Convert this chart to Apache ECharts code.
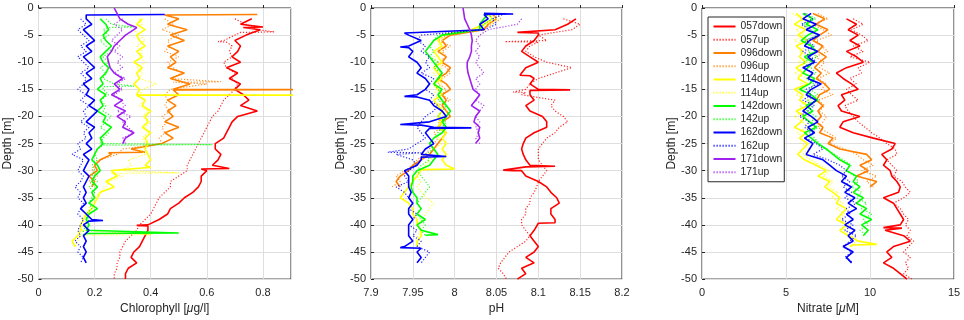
<!DOCTYPE html>
<html>
<head>
<meta charset="utf-8">
<script src="https://cdn.jsdelivr.net/npm/echarts@6/dist/echarts.min.js"></script>
<style>
  html, body { margin: 0; background: #fff; }
  #chart { width: 964px; height: 320px; }
</style>
</head>
<body>
<div id="chart"></div>
<script>
// profile values on a 1 m depth grid, first value at the given top depth
// spikes: extra [depth, value] samples (sharp excursions)

const castNames = ['057down', '057up', '096down', '096up', '114down', '114up',
  '142down', '142up', '162down', '162up', '171down', '171up']
const castColors = ['#ff0000', '#ff0000', '#ff8000', '#ff8000', '#ffff00', '#ffff00',
  '#00ff00', '#00ff00', '#0000ff', '#0000ff', '#a020f0', '#a020f0']
const depthTicks = [0, -5, -10, -15, -20, -25, -30, -35, -40, -45, -50]

// ---- Chlorophyll [ug/l]
const chl057down = [0.76, 0.72, 0.79, 0.74, 0.70, 0.72, 0.71, 0.69, 0.72, 0.67, 0.71, 0.68, 0.72, 0.70,
  0.73, 0.75, 0.72, 0.78, 0.71, 0.69, 0.68, 0.67, 0.66, 0.63, 0.63, 0.65, 0.64, 0.62, 0.60, 0.58, 0.58,
  0.57, 0.55, 0.52, 0.50, 0.47, 0.46, 0.43, 0.39, 0.39, 0.38, 0.37, 0.36, 0.34, 0.33, 0.35, 0.32, 0.31, 0.31]
const chl057downSpikes = [[-3.5, 0.80], [-3.6, 0.73], [-29.6, 0.68], [-29.7, 0.58], [-40.1, 0.35], [-40.2, 0.39]]
const chl057up = [0.70, 0.74, 0.78, 0.70, 0.66, 0.69, 0.68, 0.69, 0.66, 0.67, 0.70, 0.69, 0.71, 0.70,
  0.68, 0.66, 0.65, 0.64, 0.62, 0.61, 0.60, 0.59, 0.58, 0.57, 0.56, 0.55, 0.54, 0.53, 0.53, 0.50, 0.47,
  0.47, 0.45, 0.43, 0.42, 0.41, 0.40, 0.38, 0.36, 0.35, 0.33, 0.31, 0.30, 0.29, 0.29, 0.28, 0.28, 0.27, 0.27]
const chl057upSpikes = [[-4.4, 0.84], [-4.5, 0.72], [-6.2, 0.64], [-6.3, 0.67]]
const chl096down = [0.50, 0.46, 0.53, 0.47, 0.52, 0.46, 0.50, 0.47, 0.49, 0.46, 0.52, 0.47, 0.54, 0.48,
  0.50, 0.46, 0.49, 0.46, 0.48, 0.45, 0.50, 0.45, 0.48, 0.44, 0.33, 0.26, 0.22, 0.20, 0.21, 0.18, 0.20, 0.19]
const chl096downSpikes = [[-1.2, 0.78], [-1.3, 0.45], [-15.05, 1.2], [-15.1, 0.48], [-26.6, 0.38], [-26.7, 0.25]]
const chl096up = [0.45, 0.48, 0.44, 0.50, 0.46, 0.47, 0.45, 0.50, 0.46, 0.48, 0.51, 0.47, 0.60, 0.47,
  0.45, 0.46, 0.45, 0.47, 0.44, 0.46, 0.44, 0.45, 0.43, 0.44, 0.30, 0.28, 0.22, 0.20, 0.19, 0.21, 0.18, 0.20]
const chl096upSpikes = [[-13.6, 0.65], [-13.7, 0.48]]
const chl114down = [0.37, 0.35, 0.38, 0.35, 0.36, 0.38, 0.35, 0.37, 0.34, 0.37, 0.35, 0.36, 0.34, 0.36,
  0.35, 0.38, 0.37, 0.40, 0.38, 0.39, 0.37, 0.40, 0.38, 0.39, 0.38, 0.39, 0.40, 0.38, 0.26, 0.28, 0.24,
  0.27, 0.22, 0.21, 0.20, 0.19, 0.17, 0.16, 0.15, 0.15, 0.14, 0.12, 0.13]
const chl114downSpikes = [[-16.05, 1.2], [-16.1, 0.35], [-29.4, 0.40], [-29.5, 0.37]]
const chl114up = [0.36, 0.37, 0.34, 0.36, 0.38, 0.35, 0.37, 0.36, 0.38, 0.35, 0.37, 0.36, 0.42, 0.37,
  0.36, 0.38, 0.36, 0.39, 0.37, 0.40, 0.38, 0.39, 0.37, 0.38, 0.36, 0.38, 0.32, 0.33, 0.30, 0.30, 0.25,
  0.24, 0.22, 0.20, 0.19, 0.18, 0.18, 0.17, 0.16, 0.15, 0.15, 0.14, 0.13]
const chl114upSpikes = [[-30.4, 0.50], [-30.5, 0.26], [-41.8, 0.40], [-41.9, 0.15]]
const chl142down = [0.22, 0.24, 0.25, 0.23, 0.24, 0.26, 0.24, 0.22, 0.23, 0.25, 0.24, 0.22, 0.23, 0.21,
  0.24, 0.22, 0.23, 0.21, 0.24, 0.23, 0.26, 0.24, 0.22, 0.23, 0.21, 0.20, 0.19, 0.21, 0.22, 0.20, 0.19,
  0.21, 0.19, 0.20, 0.18, 0.21, 0.18, 0.17, 0.18, 0.17, 0.16]
const chl142downSpikes = [[-41.5, 0.50], [-41.6, 0.17]]
const chl142up = [0.24, 0.26, 0.23, 0.25, 0.22, 0.24, 0.26, 0.23, 0.25, 0.22, 0.24, 0.23, 0.27, 0.23,
  0.25, 0.22, 0.24, 0.23, 0.26, 0.24, 0.22, 0.25, 0.23, 0.22, 0.21, 0.20, 0.21, 0.19, 0.20, 0.19, 0.21,
  0.18, 0.20, 0.19, 0.18, 0.19, 0.17, 0.18, 0.17, 0.16, 0.16]
const chl142upSpikes = [[-3.5, 0.34], [-3.6, 0.25], [-14.4, 0.34], [-14.5, 0.23], [-25.2, 0.62], [-25.3, 0.23]]
const chl162down = [0.17, 0.19, 0.16, 0.18, 0.20, 0.17, 0.19, 0.16, 0.18, 0.20, 0.17, 0.19, 0.16, 0.18,
  0.17, 0.20, 0.18, 0.21, 0.19, 0.17, 0.20, 0.18, 0.19, 0.17, 0.19, 0.16, 0.18, 0.17, 0.16, 0.18, 0.17,
  0.16, 0.17, 0.16, 0.17, 0.15, 0.17, 0.19, 0.16, 0.18, 0.16, 0.17, 0.16, 0.17, 0.16, 0.17]
const chl162downSpikes = [[-1.2, 0.45], [-1.3, 0.17], [-39.2, 0.23], [-39.3, 0.18]]
const chl162up = [0.15, 0.17, 0.14, 0.16, 0.18, 0.15, 0.17, 0.14, 0.16, 0.18, 0.15, 0.17, 0.16, 0.14,
  0.17, 0.15, 0.18, 0.16, 0.17, 0.15, 0.18, 0.16, 0.17, 0.14, 0.15, 0.12, 0.16, 0.15, 0.14, 0.16, 0.15,
  0.13, 0.15, 0.14, 0.16, 0.15, 0.14, 0.16, 0.15, 0.14, 0.15, 0.13, 0.15, 0.14, 0.16, 0.15]
const chl171down = [0.27, 0.28, 0.29, 0.32, 0.34, 0.31, 0.29, 0.27, 0.26, 0.245, 0.25, 0.255, 0.27,
  0.30, 0.27, 0.29, 0.26, 0.30, 0.27, 0.31, 0.28, 0.31, 0.30, 0.34, 0.31, 0.30]
const chl171downSpikes = [[-3.6, 0.35]]
const chl171up = [0.30, 0.27, 0.30, 0.28, 0.26, 0.29, 0.27, 0.30, 0.28, 0.30, 0.27, 0.31, 0.28, 0.30,
  0.27, 0.29, 0.31, 0.28, 0.33, 0.30, 0.32, 0.34, 0.30, 0.31]

// ---- pH
const ph057down = [8.145, 8.135, 8.12, 8.10, 8.095, 8.085, 8.08, 8.09, 8.10, 8.085, 8.08, 8.095, 8.09,
  8.10, 8.09, 8.095, 8.085, 8.09, 8.105, 8.11, 8.11, 8.095, 8.085, 8.082, 8.08, 8.082, 8.085, 8.09,
  8.07, 8.085, 8.10, 8.11, 8.115, 8.122, 8.125, 8.115, 8.115, 8.12, 8.10, 8.095, 8.09, 8.095, 8.10,
  8.095, 8.085, 8.095, 8.08, 8.085, 8.075]
const ph057downSpikes = [[-4.5, 8.075], [-4.6, 8.10], [-12.4, 8.078], [-12.5, 8.09], [-15.1, 8.138],
  [-15.2, 8.09], [-29.2, 8.12], [-29.3, 8.085], [-29.9, 8.058], [-30.0, 8.08], [-39.6, 8.12], [-39.7, 8.10]]
const ph057up = [8.13, 8.15, 8.14, 8.10, 8.11, 8.09, 8.085, 8.095, 8.11, 8.14, 8.12, 8.10, 8.09, 8.085,
  8.08, 8.12, 8.115, 8.12, 8.13, 8.135, 8.125, 8.12, 8.11, 8.105, 8.10, 8.10, 8.10, 8.105, 8.11,
  8.105, 8.10, 8.098, 8.095, 8.09, 8.09, 8.085, 8.085, 8.08, 8.08, 8.085, 8.09, 8.085, 8.075, 8.065,
  8.06, 8.055, 8.052, 8.058, 8.062]
const ph057upSpikes = [[-6.2, 8.06], [-6.3, 8.10], [-15.5, 8.07], [-15.6, 8.085]]
const ph096down = [8.045, 8.05, 8.04, 8.035, 7.995, 7.985, 7.99, 7.98, 7.99, 7.985, 7.995, 7.99, 7.98,
  7.99, 7.995, 7.985, 7.99, 7.985, 7.99, 7.995, 7.985, 7.98, 7.99, 7.985, 7.98, 7.975, 7.97, 7.96,
  7.95, 7.945, 7.935, 7.93, 7.935]
const ph096up = [8.05, 8.055, 8.045, 8.03, 7.99, 7.98, 7.995, 7.985, 7.99, 7.98, 7.99, 7.995, 7.985,
  7.98, 7.99, 7.985, 7.995, 7.98, 7.985, 7.99, 7.98, 7.985, 7.975, 7.98, 7.975, 7.97, 7.965, 7.955,
  7.95, 7.94, 7.93, 7.935, 7.925]
const ph114down = [8.04, 8.045, 8.035, 8.02, 7.985, 7.98, 7.985, 7.975, 7.98, 7.985, 7.975, 7.98, 7.985,
  7.975, 7.98, 7.985, 7.975, 7.98, 7.985, 7.98, 7.985, 7.98, 7.99, 7.985, 7.99, 7.985, 7.99, 7.985,
  7.99, 7.96, 7.955, 7.95, 7.945, 7.94, 7.935, 7.945, 7.95, 7.95, 7.955, 7.955, 7.96, 7.96, 7.955, 7.955]
const ph114downSpikes = [[-29.7, 8.0], [-29.8, 7.96]]
const ph114up = [8.045, 8.05, 8.04, 8.025, 7.99, 7.985, 7.98, 7.985, 7.975, 7.98, 7.985, 7.975, 7.98,
  7.985, 7.98, 7.975, 7.985, 7.98, 7.99, 7.985, 7.98, 7.99, 7.985, 7.98, 7.985, 7.975, 7.98, 7.97,
  7.965, 7.96, 7.955, 7.96, 7.955, 7.96, 7.965, 7.975, 7.97, 7.965, 7.96, 7.955, 7.96, 7.955, 7.96, 7.955]
const ph142down = [8.04, 8.035, 8.03, 8.03, 7.985, 7.975, 7.97, 7.965, 7.97, 7.975, 7.98, 7.985, 7.98,
  7.975, 7.985, 7.98, 7.985, 7.99, 7.995, 7.99, 7.985, 7.99, 7.985, 7.975, 7.97, 7.975, 7.98, 7.975,
  7.97, 7.955, 7.95, 7.95, 7.948, 7.95, 7.955, 7.955, 7.96, 7.955, 7.965, 7.955, 7.96, 7.965]
const ph142downSpikes = [[-41.8, 7.98], [-41.9, 7.965]]
const ph142up = [8.04, 8.045, 8.035, 8.03, 7.98, 7.975, 7.97, 7.975, 7.97, 7.98, 7.975, 7.985, 7.98,
  7.975, 7.98, 7.985, 7.98, 7.99, 7.985, 7.98, 7.99, 7.985, 7.98, 7.975, 7.97, 7.975, 7.965, 7.97,
  7.96, 7.955, 7.96, 7.965, 7.97, 7.965, 7.96, 7.955, 7.96, 7.955, 7.96, 7.965, 7.96, 7.965]
const ph162down = [8.035, 8.04, 8.03, 8.035, 7.945, 7.96, 7.945, 7.95, 7.945, 7.955, 7.96, 7.955, 7.965,
  7.97, 7.965, 7.955, 7.97, 7.975, 7.985, 7.99, 7.97, 7.975, 7.965, 7.97, 7.975, 7.965, 7.96, 7.96,
  7.955, 7.94, 7.945, 7.945, 7.945, 7.948, 7.945, 7.95, 7.945, 7.945, 7.95, 7.945, 7.945, 7.945, 7.95,
  7.94, 7.955, 7.96, 7.955]
const ph162downSpikes = [[-1.1, 8.07], [-1.2, 8.035], [-4.6, 7.94], [-7.2, 7.935], [-7.3, 7.945],
  [-16.3, 7.94], [-16.4, 7.955], [-21.5, 7.935], [-21.6, 7.96], [-22.1, 8.02], [-22.2, 7.97],
  [-27.4, 7.99], [-27.5, 7.96], [-44.2, 7.935], [-44.3, 7.96]]
const ph162up = [8.06, 8.045, 8.05, 8.035, 7.96, 7.955, 7.965, 7.96, 7.97, 7.965, 7.97, 7.96, 7.975,
  7.97, 7.965, 7.975, 7.97, 7.98, 7.975, 7.965, 7.96, 7.955, 7.96, 7.965, 7.955, 7.945, 7.93, 7.95,
  7.955, 7.945, 7.94, 7.945, 7.93, 7.94, 7.945, 7.95, 7.945, 7.955, 7.95, 7.945, 7.955, 7.95, 7.96,
  7.955, 7.97, 7.965, 7.96]
const ph162upSpikes = [[-26.6, 7.92], [-26.7, 7.96]]
const ph171down = [8.01, 8.011, 8.012, 8.015, 8.018, 8.02, 8.021, 8.02, 8.02, 8.018, 8.015, 8.015,
  8.016, 8.018, 8.02, 8.022, 8.03, 8.025, 8.02, 8.03, 8.025, 8.023, 8.03, 8.028, 8.03, 8.025]
const ph171up = [8.08, 8.075, 8.04, 8.03, 8.025, 8.03, 8.025, 8.03, 8.025, 8.03, 8.035, 8.025, 8.03,
  8.025, 8.03, 8.025, 8.035, 8.03, 8.025, 8.03, 8.025, 8.03, 8.025, 8.03]

// ---- Nitrate [uM]
const no3057down = [8.6, 9.2, 8.7, 9.3, 8.8, 9.4, 8.6, 9.2, 9.6, 8.6, 8.0, 8.4, 8.9, 9.3, 8.3, 8.5, 8.1,
  8.3, 9.4, 8.4, 8.2, 9.0, 10.2, 11.5, 11.3, 10.7, 11.0, 10.8, 11.2, 11.3, 11.6, 11.8, 11.7, 10.8, 11.4,
  11.6, 11.8, 12.0, 11.8, 10.9, 12.0, 12.4, 11.4, 11.0, 11.3, 10.8, 11.4, 11.8, 12.2]
const no3057downSpikes = [[-40.5, 10.8], [-40.6, 11.9]]
const no3057up = [9.0, 9.6, 8.9, 9.5, 9.9, 9.0, 9.6, 8.8, 10.0, 9.3, 9.5, 8.8, 9.2, 8.6, 8.9, 9.3, 8.5,
  8.7, 9.0, 9.3, 9.7, 10.1, 10.6, 11.0, 11.5, 11.6, 11.0, 11.3, 11.6, 11.4, 11.9, 12.1, 12.4, 12.0,
  11.4, 11.8, 12.0, 12.3, 12.1, 12.4, 12.2, 12.6, 12.3, 12.0, 12.4, 12.1, 12.3, 12.0, 12.5]
const no3096down = [6.6, 7.3, 6.8, 7.5, 7.0, 6.6, 7.2, 6.9, 7.4, 7.0, 6.7, 7.1, 6.8, 7.3, 7.6, 7.0, 6.8,
  7.2, 6.9, 7.1, 6.8, 7.2, 7.0, 7.8, 7.5, 8.2, 9.8, 10.1, 9.4, 9.9, 9.2, 10.4, 10.0]
const no3096up = [6.9, 7.5, 6.6, 7.2, 7.7, 6.8, 7.1, 7.5, 6.7, 7.3, 7.0, 7.6, 6.9, 7.4, 7.1, 7.8, 6.9,
  7.3, 7.0, 7.4, 7.2, 6.9, 7.5, 8.0, 7.6, 8.5, 9.2, 9.6, 10.2, 9.5, 10.4, 9.8, 10.2]
const no3114down = [5.6, 6.0, 5.5, 6.2, 5.7, 6.3, 5.6, 6.0, 5.8, 6.2, 5.6, 6.0, 5.7, 6.3, 5.5, 6.0, 5.8,
  6.3, 5.6, 6.1, 5.9, 5.5, 6.2, 5.8, 6.3, 6.0, 5.7, 6.1, 6.8, 7.4, 6.9, 7.6, 7.3, 7.8, 8.2, 8.0, 8.6,
  8.3, 8.0, 8.6, 8.2, 8.7, 9.3, 8.8]
const no3114downSpikes = [[-43.6, 10.4], [-43.7, 9.0]]
const no3114up = [5.4, 5.9, 6.4, 5.6, 6.1, 5.5, 6.2, 5.8, 6.4, 5.7, 6.1, 5.5, 6.3, 5.9, 6.1, 5.6, 6.4,
  5.8, 6.2, 5.5, 6.0, 6.3, 5.7, 6.1, 5.9, 6.4, 6.0, 6.5, 7.0, 7.6, 7.2, 7.8, 7.5, 8.1, 7.7, 8.4, 8.0,
  8.5, 8.2, 8.8, 8.4, 8.9, 9.2, 8.8]
const no3142down = [6.0, 6.6, 6.2, 6.9, 6.3, 5.9, 6.5, 6.8, 6.1, 6.6, 6.3, 6.0, 6.7, 6.4, 5.8, 6.5, 6.9,
  6.2, 6.6, 6.0, 6.4, 6.8, 6.1, 6.5, 6.9, 7.4, 7.8, 8.2, 8.8, 8.6, 9.2, 9.0, 9.4, 9.0, 9.6, 9.2, 9.8,
  9.4, 10.1, 9.5, 9.9, 9.6]
const no3142up = [6.2, 6.8, 6.0, 6.5, 6.9, 6.1, 6.6, 6.3, 6.9, 6.0, 6.5, 6.8, 6.2, 6.7, 6.4, 6.9, 6.3,
  6.6, 6.2, 6.8, 6.5, 6.9, 6.4, 6.7, 7.0, 7.3, 7.9, 8.4, 8.9, 8.5, 9.1, 9.3, 8.9, 9.5, 9.2, 9.8, 9.5,
  10.1, 9.6, 9.9, 9.4, 9.8]
const no3162down = [6.5, 6.0, 6.8, 6.2, 7.0, 6.4, 6.1, 6.9, 6.3, 6.7, 6.0, 6.6, 6.3, 7.1, 6.5, 6.2, 6.8,
  6.4, 6.0, 6.5, 6.9, 6.3, 6.7, 6.1, 6.6, 6.4, 6.2, 7.2, 7.6, 8.0, 8.6, 8.3, 8.9, 8.5, 9.1, 8.7, 9.2,
  8.6, 9.0, 8.5, 9.1, 8.7, 9.0, 8.4, 9.0, 8.6, 8.9]
const no3162up = [6.1, 6.6, 5.9, 6.4, 6.9, 6.2, 6.7, 6.0, 6.5, 6.8, 6.1, 6.6, 6.3, 6.9, 6.2, 6.5, 6.0,
  6.7, 6.3, 5.8, 6.4, 6.1, 6.6, 6.2, 6.8, 7.2, 6.6, 7.5, 8.2, 8.6, 8.3, 8.8, 8.4, 8.9, 8.5, 9.2, 8.6,
  8.8, 8.3, 9.0, 8.5, 9.2, 8.8, 8.4, 8.9, 8.5, 9.0]

// [values, top depth, spikes] per cast, in castNames order
const chlCasts = [
  [chl057down, -2, chl057downSpikes], [chl057up, -2, chl057upSpikes],
  [chl096down, -2, chl096downSpikes], [chl096up, -2, chl096upSpikes],
  [chl114down, -2, chl114downSpikes], [chl114up, -2, chl114upSpikes],
  [chl142down, -2, chl142downSpikes], [chl142up, -2, chl142upSpikes],
  [chl162down, -2, chl162downSpikes], [chl162up, -2, []],
  [chl171down, 0, chl171downSpikes], [chl171up, -2, []],
]
const phCasts = [
  [ph057down, -2, ph057downSpikes], [ph057up, -2, ph057upSpikes],
  [ph096down, -1, []], [ph096up, -1, []],
  [ph114down, -1, ph114downSpikes], [ph114up, -1, []],
  [ph142down, -1, ph142downSpikes], [ph142up, -1, []],
  [ph162down, -1, ph162downSpikes], [ph162up, -1, ph162upSpikes],
  [ph171down, 0, []], [ph171up, -2, []],
]
const no3Casts = [
  [no3057down, -2, no3057downSpikes], [no3057up, -2, []],
  [no3096down, -1, []], [no3096up, -1, []],
  [no3114down, -1, no3114downSpikes], [no3114up, -1, []],
  [no3142down, -1, []], [no3142up, -1, []],
  [no3162down, -1, []], [no3162up, -1, []],
  [[], -1, []], [[], -1, []],
]

const font = '"Liberation Sans", Arial, Helvetica, sans-serif'
const ink = '#262626'

function profile(vals, top, spikes) {
  const pts = vals.map((v, i) => [v, top - i])
  spikes.forEach(([d, v]) => pts.push([v, d]))
  return pts.sort((a, b) => b[1] - a[1])
}

const grids = [
  { left: 38.5, top: 8, width: 252.5, height: 275 },
  { left: 371, top: 8, width: 251, height: 275 },
  { left: 702, top: 8, width: 252, height: 275 },
].map(g => ({ ...g, show: true, borderColor: ink, borderWidth: 1, backgroundColor: '#fff' }))

const axisBase = {
  axisLine: { show: false },
  axisTick: { inside: true, length: 3, lineStyle: { color: ink } },
  axisLabel: { color: ink, fontSize: 11, fontFamily: font },
  splitLine: { show: true, lineStyle: { color: '#dedede', width: 1 } },
  nameTextStyle: { color: ink, fontSize: 12, fontFamily: font, rich: { i: { fontStyle: 'italic', fontSize: 12, fontFamily: font, color: ink } } },
}

const xAxes = [
  { min: 0, max: 0.9, interval: 0.2, name: 'Chlorophyll [{i|μ}g/l]', labelOpt: { showMaxLabel: false } },
  { min: 7.9, max: 8.2, interval: 0.05, name: 'pH', labelOpt: { formatter: v => String(+(+v).toFixed(2)) } },
  { min: 0, max: 15, interval: 5, name: 'Nitrate [{i|μ}M]', labelOpt: {} },
].map((a, i) => ({
  ...axisBase,
  type: 'value', gridIndex: i, min: a.min, max: a.max, interval: a.interval,
  name: a.name, nameLocation: 'middle', nameGap: 23,
  axisLabel: { ...axisBase.axisLabel, margin: 8, ...a.labelOpt },
}))

const yAxes = [0, 1, 2].map(i => ({
  ...axisBase,
  type: 'value', gridIndex: i, min: -50, max: 0, interval: 5,
  name: 'Depth [m]', nameLocation: 'middle', nameGap: [21, 24, 21][i],
  axisLabel: { ...axisBase.axisLabel, margin: 5 },
}))

const series = []
;[chlCasts, phCasts, no3Casts].forEach((casts, gi) => {
  casts.forEach(([vals, top, spikes], ci) => {
    const up = ci % 2 === 1
    series.push({
      type: 'line',
      name: castNames[ci],
      xAxisIndex: gi, yAxisIndex: gi,
      data: profile(vals, top, spikes),
      symbol: 'none',
      animation: false,
      lineStyle: up
        ? { color: castColors[ci], width: 1.2, type: [1.2, 1.8], opacity: 0.85 }
        : { color: castColors[ci], width: 1.6 },
      itemStyle: { color: castColors[ci] },
    })
  })
})

const chart = echarts.init(document.getElementById('chart'))
chart.setOption({
  animation: false,
  backgroundColor: '#fff',
  grid: grids,
  xAxis: xAxes,
  yAxis: yAxes,
  legend: {
    data: castNames,
    orient: 'vertical',
    left: 708, top: 17,
    padding: [3, 2, 3, 4.5],
    itemWidth: 22, itemHeight: 13, itemGap: 0.25,
    itemStyle: { opacity: 0 },
    backgroundColor: '#fff',
    borderColor: ink, borderWidth: 1,
    textStyle: { color: ink, fontSize: 10.3, fontFamily: font, lineHeight: 13 },
  },
  series,
})
</script>
</body>
</html>
